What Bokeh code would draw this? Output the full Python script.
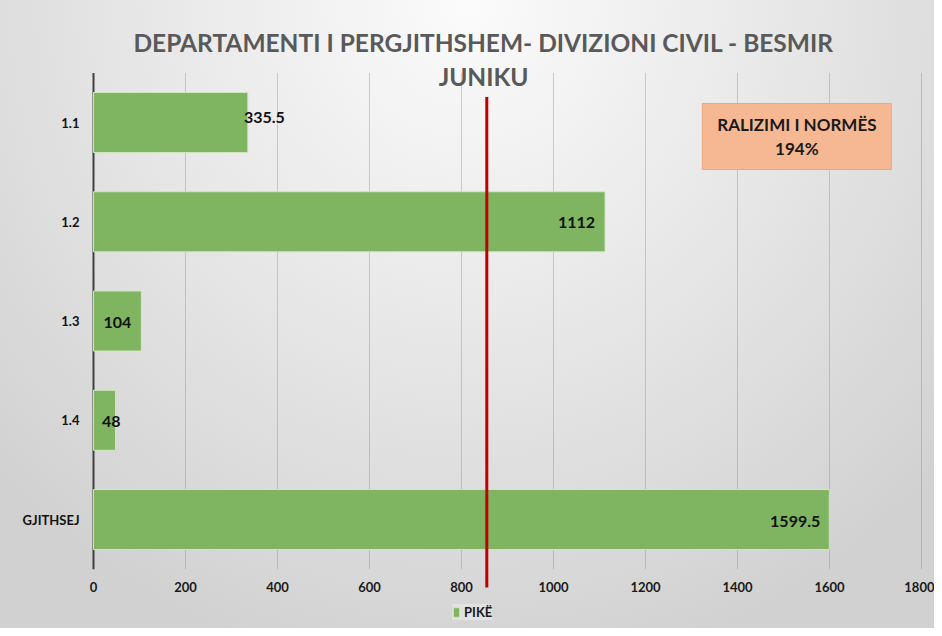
from bokeh.plotting import figure
from bokeh.models import ColumnDataSource, Range1d, FixedTicker, Legend, LegendItem
from bokeh.core.properties import value
from bokeh.embed import file_html
from bokeh.resources import INLINE

# ---------------- data ----------------
categories = ["1.1", "1.2", "1.3", "1.4", "GJITHSEJ"]
pike = [335.5, 1112, 104, 48, 1599.5]
pike_labels = ["335.5", "1112", "104", "48", "1599.5"]
x_tick_values = [0, 200, 400, 600, 800, 1000, 1200, 1400, 1600, 1800]
norm_value = 855
title_lines = ["DEPARTAMENTI I PERGJITHSHEM- DIVIZIONI CIVIL - BESMIR", "JUNIKU"]
note_lines = ["RALIZIMI I NORMËS", "194%"]
series_name = "PIKË"

# label nudges (screen pixels), style only
label_dx = [37, -10, -10, 5, -9]
label_dy = [-5, 1, 1, 1, 2]

FONT = "Lato"

n = len(categories)
y_pos = [n - 0.5 - i for i in range(n)]   # category slots, top to bottom

src = ColumnDataSource(dict(y=y_pos, cat=categories, pike=pike, lab=pike_labels,
                            dx=label_dx, dy=label_dy))

p = figure(width=934, height=628, output_backend="svg", toolbar_location=None,
           x_range=Range1d(-202.17, 1828.26), y_range=Range1d(-0.598, 5.7295),
           min_border_left=0, min_border_right=0, min_border_top=0,
           min_border_bottom=0)
p.border_fill_alpha = 0
p.background_fill_alpha = 0
p.outline_line_color = None
p.styles = {"background": "radial-gradient(ellipse 70% 110% at 50% 0%, #fbfbfb 0%, #e9e9e9 45%, #d1d1d1 100%)"}

p.xgrid.grid_line_color = None
p.ygrid.grid_line_color = None

# x axis (labels only), pinned at the foot of the category band
p.xaxis.fixed_location = 0
p.xaxis.ticker = FixedTicker(ticks=x_tick_values)
p.xaxis.axis_line_color = None
p.xaxis.major_tick_line_color = None
p.xaxis.minor_tick_line_color = None
p.xaxis.major_tick_out = 0
p.xaxis.major_tick_in = 0
p.xaxis.major_label_text_font = FONT
p.xaxis.major_label_text_font_style = "bold"
p.xaxis.major_label_text_font_size = "13px"
p.xaxis.major_label_text_color = "#1a1a1a"
p.xaxis.major_label_standoff = 13

# y axis (category labels), pinned at zero
p.yaxis.fixed_location = 0
p.yaxis.ticker = FixedTicker(ticks=y_pos)
p.yaxis.major_label_overrides = {yv: c for yv, c in zip(y_pos, categories)}
p.yaxis.axis_line_color = None
p.yaxis.major_tick_line_color = None
p.yaxis.minor_tick_line_color = None
p.yaxis.major_tick_out = 0
p.yaxis.major_tick_in = 0
p.yaxis.major_label_text_font = FONT
p.yaxis.major_label_text_font_style = "bold"
p.yaxis.major_label_text_font_size = "13px"
p.yaxis.major_label_text_color = "#111111"
p.yaxis.major_label_standoff = 14

# vertical gridlines over the category band, and the value axis line
p.segment(x0=x_tick_values[1:], x1=x_tick_values[1:], y0=0, y1=n,
          line_color="#7f7f7f", line_alpha=0.35, line_width=1)
p.segment(x0=[0], x1=[0], y0=[0], y1=[n], line_color="#404040", line_width=2)

# bars
bars = p.hbar(y="y", right="pike", left=0, height=0.605, source=src,
              fill_color="#7fb560", line_color="#d2e6c4", line_width=1)

# value labels
p.text(x="pike", y="y", text="lab", source=src, x_offset="dx", y_offset="dy",
       text_align="right", text_baseline="middle",
       text_font=value(FONT), text_font_style="bold", text_font_size="16px",
       text_color="#111111")

# norm line
p.segment(x0=[norm_value], x1=[norm_value], y0=[4.757], y1=[-0.185],
          line_color="#c00000", line_width=3)

# note box
p.quad(left=[1529 - 205.5], right=[1529 + 205.5], bottom=[4.359 - 0.3325],
       top=[4.359 + 0.3325], fill_color="#f5b893", line_color="#eea57e", line_width=1)
p.text(x=[1529, 1529], y=[4.359 + 0.125, 4.359 - 0.125], text=note_lines,
       text_align="center", text_baseline="middle",
       text_font=value(FONT), text_font_style="bold", text_font_size="17px",
       text_color="#1a1a1a")

# title
p.text(x=[848, 848], y=[5.306, 4.964], text=title_lines,
       text_align="center", text_baseline="middle",
       text_font=value(FONT), text_font_style="bold", text_font_size="24.5px",
       text_color="#595959")

# legend
legend = Legend(items=[LegendItem(label=series_name, renderers=[bars])],
                location=(452, 8), orientation="horizontal",
                glyph_width=8, glyph_height=12, label_standoff=4, padding=7, margin=0,
                background_fill_color="#e2e2e2", background_fill_alpha=1,
                border_line_color=None,
                label_text_font=FONT, label_text_font_style="bold",
                label_text_font_size="13px", label_text_color="#1a1a1a")
p.add_layout(legend)

open("out.html", "w").write(file_html(p, INLINE))
